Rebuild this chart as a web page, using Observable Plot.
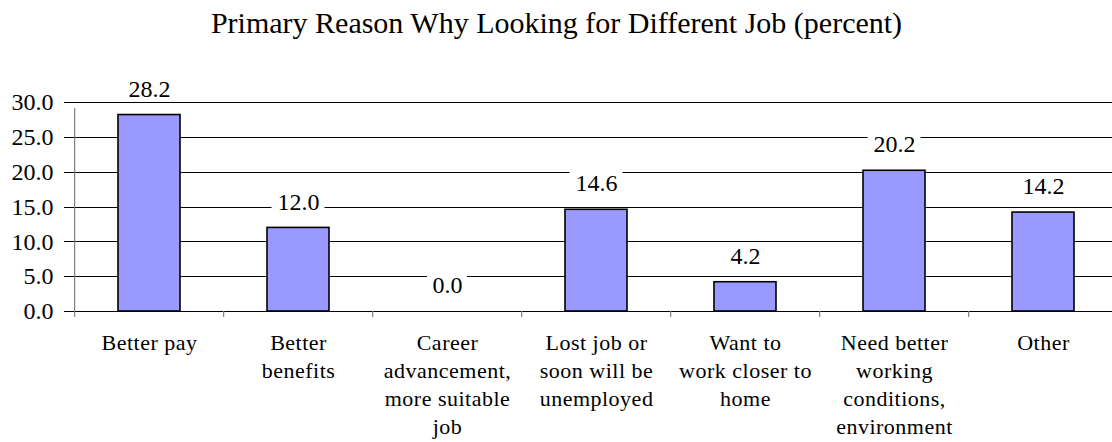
<!DOCTYPE html>
<html>
<head>
<meta charset="utf-8">
<script src="https://cdn.jsdelivr.net/npm/d3@7"></script>
<script src="https://cdn.jsdelivr.net/npm/@observablehq/plot@0.6"></script>
<style>
  html, body { margin: 0; padding: 0; background: #fff; overflow: hidden; }
  #chart svg { display: block; }
  #chart svg, #chart svg text, #chart svg g { font-family: "Liberation Serif", "Times New Roman", serif !important; }
  #chart g[aria-label="x-axis tick label"] text { letter-spacing: 0.5px; }
</style>
</head>
<body>
<div id="chart"></div>
<script>
const title = "Primary Reason Why Looking for Different Job (percent)";
const categories = [
  "Better pay",
  "Better benefits",
  "Career advancement, more suitable job",
  "Lost job or soon will be unemployed",
  "Want to work closer to home",
  "Need better working conditions, environment",
  "Other"
];
const categoryLabels = [
  "Better pay",
  "Better\nbenefits",
  "Career\nadvancement,\nmore suitable\njob",
  "Lost job or\nsoon will be\nunemployed",
  "Want to\nwork closer to\nhome",
  "Need better\nworking\nconditions,\nenvironment",
  "Other"
];
const values = [28.2, 12.0, 0.0, 14.6, 4.2, 20.2, 14.2];
const yTicks = [0, 5, 10, 15, 20, 25, 30];

const data = categories.map((c, i) => ({cat: c, value: values[i], text: values[i].toFixed(1)}));
const labelOf = new Map(categories.map((c, i) => [c, categoryLabels[i]]));

const W = 1112, H = 442;
const mLeft = 72, mTop = 102, mBottom = 131;
const xEnd = 1120;
const step = (xEnd - mLeft) / categories.length;
const pad = 1 - 62 / step;
const font = "Liberation Serif, Times New Roman, serif";

const long = data.filter(d => d.text.length >= 4);
const short = data.filter(d => d.text.length < 4);
const boxInset = (w) => (step * (1 - pad) - w) / 2;

const chart = Plot.plot({
  width: W,
  height: H,
  marginLeft: mLeft,
  marginRight: 0,
  marginTop: mTop,
  marginBottom: mBottom,
  style: {fontFamily: font, fontSize: "24px", color: "#000", background: "#fff"},
  x: {domain: categories, range: [mLeft, xEnd], paddingInner: pad, paddingOuter: pad / 2},
  y: {domain: [0, 30]},
  marks: [
    Plot.ruleY(yTicks, {stroke: "#000", strokeWidth: 1, insetLeft: -8, shapeRendering: "crispEdges"}),
    Plot.barY(long, {x: "cat", y1: "value", y2: "value", fill: "#fff", insetTop: -12, insetBottom: -12, insetLeft: boxInset(53), insetRight: boxInset(53), dy: -26}),
    Plot.barY(short, {x: "cat", y1: "value", y2: "value", fill: "#fff", insetTop: -12, insetBottom: -12, insetLeft: boxInset(40), insetRight: boxInset(40), dy: -26}),
    Plot.barY(data, {x: "cat", y: "value", fill: "#9999FF", stroke: "#000", strokeWidth: 1.6}),
    Plot.text(data, {x: "cat", y: "value", text: "text", dy: -26, lineAnchor: "middle", fontSize: 24, fill: "#000"}),
    Plot.ruleX(categories, {dx: -step / 2, y1: 0, y2: 0, insetBottom: -6, stroke: "#808080", strokeWidth: 1.2}),
    Plot.ruleX([categories[0]], {dx: -step / 2, y1: yTicks[0], y2: yTicks[yTicks.length - 1], insetBottom: -6, stroke: "#808080", strokeWidth: 1.2}),
    Plot.axisY({ticks: yTicks, tickSize: 0, tickPadding: 19, tickFormat: d => d.toFixed(1), label: null, fontSize: 24}),
    Plot.axisX({tickSize: 0, tickPadding: 18, tickFormat: d => labelOf.get(d), label: null, fontSize: 22, lineHeight: 1.28}),
    Plot.text([title], {frameAnchor: "top", dx: W / 2 - (mLeft + W) / 2, dy: 23 - mTop, lineAnchor: "middle", fontSize: 30, fill: "#000"})
  ]
});
document.getElementById("chart").appendChild(chart);
</script>
</body>
</html>
